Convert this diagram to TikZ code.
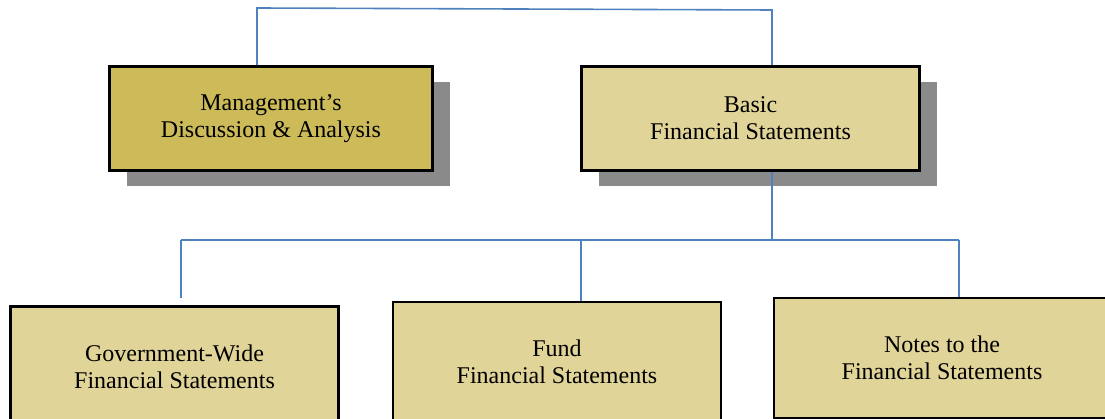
\documentclass[tikz,border=0pt]{standalone}
\usepackage{fontspec}
\setmainfont{Liberation Serif}
\usetikzlibrary{shadows}

\definecolor{darkgold}{RGB}{205,187,90}
\definecolor{lightgold}{RGB}{224,212,152}
\definecolor{shadowgray}{RGB}{138,138,138}
\definecolor{linkblue}{RGB}{79,129,189}

\begin{document}
\begin{tikzpicture}[x=1pt,y=-1pt]

\tikzset{box/.style = {shape=rectangle,draw,line width=2.5pt,align=center,inner sep=0pt,font=\fontsize{24}{27}\selectfont}}
\tikzset{topbox/.style = {box,minimum width=323pt,minimum height=104pt,drop shadow={shadow xshift=17pt,shadow yshift=-16pt,fill=shadowgray,opacity=1}}}
\tikzset{lowbox/.style = {box,fill=lightgold,minimum width=328pt,minimum height=120pt}}
\tikzset{edge/.style = {draw=linkblue,line width=1.6pt}}

\useasboundingbox (0,0) rectangle (1105,419);
\clip (0,0) rectangle (1105,419);

%boxes
\node[topbox, fill=darkgold] (mda) at (271,118.5) {Management's\\Discussion \& Analysis};
\node[topbox, fill=lightgold, minimum width=338pt] (basic) at (750.5,118.5) {Basic\\Financial Statements};
\node[lowbox] (gov) at (174.5,366.5) {Government-Wide\\Financial Statements};
\node[lowbox] (fund) at (557,362) {Fund\\Financial Statements};
\node[lowbox, minimum width=336pt] (notes) at (942,358) {Notes to the\\Financial Statements};

%joints
\coordinate (topL) at (257,8);
\coordinate (topR) at (772,10);
\coordinate (hubL) at (181,240);
\coordinate (hubM) at (772,240);
\coordinate (hubR) at (959,240);
\coordinate (govtip) at (181,298);

%edges
\draw[edge] (mda.north -| topL) -- (topL) -- (topR) -- (basic.north -| topR);
\draw[edge] (basic.south -| hubM) -- (hubM);
\draw[edge] (hubL) -- (hubR);
\draw[edge] (hubL) -- (govtip);
\draw[edge] (hubL -| 581,0) -- (fund.north -| 581,0);
\draw[edge] (hubR) -- (notes.north -| hubR);

\end{tikzpicture}
\end{document}
